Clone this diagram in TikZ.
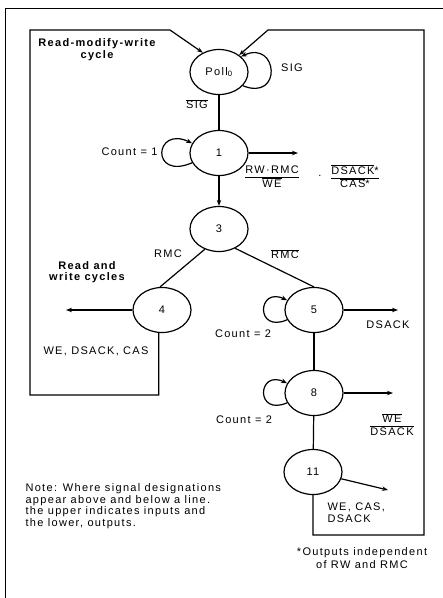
\documentclass[tikz,border=0pt]{standalone}
\usepackage{fontspec}
\setmainfont{Liberation Sans}[LetterSpace=12]
\usetikzlibrary{arrows.meta,shapes.geometric}

\newcommand{\labelfont}{\fontsize{11}{11.7}\selectfont}
\newcommand{\nsig}[1]{$\overline{\mbox{#1}}$}
\newcommand{\iofrac}[2]{\begin{tabular}{@{}c@{}}#1\\\hline #2\end{tabular}}

\begin{document}
\begin{tikzpicture}[x=1pt, y=1pt, font=\labelfont,
  state/.style={draw, ellipse, line width=1.2pt, minimum width=58pt, minimum height=45pt, inner sep=0pt},
  flow/.style={line width=1.2pt},
  boldlabel/.style={font=\labelfont\bfseries, align=center},
  >={Stealth[length=6pt, width=4.5pt]}]

  \useasboundingbox (0,0) rectangle (443,-598);

  % frame
  \draw [line width=0.8pt] (443,-8) -- (5,-8) -- (5,-598);

  % states
  \node [state] (S0) at (219,-72) {Poll\textsubscript{0}};
  \node [state] (S1) at (219,-153) {1};
  \node [state] (S3) at (219,-229) {3};
  \node [state] (S4) at (162,-310) {4};
  \node [state] (S5) at (314,-310) {5};
  \node [state] (S8) at (314,-393) {8};
  \node [state] (S11) at (313,-472) {11};

  % transitions
  \draw [flow] (S0) -- (S1);
  \draw [flow, ->] (S1) -- (S3);
  \draw [flow] (S3.235) -- (S4.95);
  \draw [flow] (S3.310) -- (S5.90);
  \draw [flow] (S5) -- (S8);
  \draw [flow] (S8) -- (S11);

  % self loops
  \draw [flow, ->] (S0.-30) .. controls +(40,-16) and +(37,17) .. (S0.35);
  \draw [flow, ->] (S1.200) .. controls +(-42,-18) and +(-38,18) .. (S1.160);
  \draw [flow, ->] (S5.200) .. controls +(-32,-14) and +(-30,14) .. (S5.160);
  \draw [flow, ->] (S8.200) .. controls +(-32,-14) and +(-30,14) .. (S8.160);

  % outputs
  \coordinate (O1) at (298,-153);
  \coordinate (O4) at (66,-310);
  \coordinate (O5) at (398,-310);
  \coordinate (O8) at (393,-393);
  \coordinate (O11) at (388,-490);

  \draw [flow, ->] (S1) -- (O1);
  \draw [flow, ->] (S4) -- (O4);
  \draw [flow, ->] (S5) -- (O5);
  \draw [flow, ->] (S8) -- (O8);
  \draw [flow, ->] (S11) -- (O11);

  % return paths
  \draw [flow, ->] (S4.262) |- (30,-395) -- (30,-30) -- (170,-30) -- (S0.130);
  \draw [flow, ->] (S11.south) |- (424,-535) -- (424,-30) -- (268,-30) -- (S0.40);

  % labels
  \node at (292,-68) {SIG};
  \node at (197,-104) {\nsig{SIG}};
  \node [anchor=east] at (161,-152) {Count = 1};
  \node at (272,-178) {\iofrac{RW·RMC}{\nsig{WE}}};
  \node at (320,-176) {.};
  \node at (355,-178) {\iofrac{\nsig{DSACK}*}{\nsig{CAS}*}};
  \node at (168,-254) {RMC};
  \node at (285,-254) {\nsig{RMC}};
  \node at (96,-351) {WE, DSACK, CAS};
  \node at (243,-334) {Count = 2};
  \node at (388,-325) {DSACK};
  \node at (244,-420) {Count = 2};
  \node at (392,-426) {\iofrac{\nsig{WE}}{DSACK}};
  \node [anchor=west, align=left] at (324,-513) {WE, CAS,\\DSACK};

  \node [boldlabel] at (97,-50) {Read-modify-write\\cycle};
  \node [boldlabel] at (87,-272) {Read and\\write cycles};

  \node [anchor=north west, align=left] at (22,-480)
    {Note: Where signal designations\\appear above and below a line.\\the upper indicates inputs and\\the lower, outputs.};
  \node [align=center] at (362,-558) {*Outputs independent\\[2pt]of RW and RMC};

\end{tikzpicture}
\end{document}
